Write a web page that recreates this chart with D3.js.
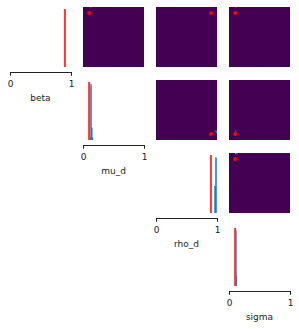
<!DOCTYPE html>
<html>
<head>
<meta charset="utf-8">
<script src="https://cdn.jsdelivr.net/npm/d3@7"></script>
<style>
  body { margin: 0; background: #fff; }
  svg { display: block; }
  text { font-family: "DejaVu Sans", sans-serif; fill: #222; }
</style>
</head>
<body>
<svg width="299" height="329"></svg>
<script>
// parameters and ground truth
const params = ["beta", "mu_d", "rho_d", "sigma"];
const truth = [0.9, 0.1, 0.9, 0.1];
const limits = [0, 1];
const tickValues = [0, 1];

// 1d marginals of the posterior: [x0, x1, relative height]
const histBeta = [[1.0, 1.02, 1.0]];
const histMu = [[0.114, 0.126, 0.04], [0.126, 0.138, 1.0], [0.138, 0.15, 0.22], [0.15, 0.162, 0.04]];
const histRho = [[0.962, 0.976, 0.48], [0.976, 0.99, 1.0]];
const histSigma = [[0.108, 0.118, 1.0], [0.118, 0.128, 0.18]];
const hists = [histBeta, histMu, histRho, histSigma];

// 2d marginals: [row, col, x0, y0, density] on a 0.02 grid
const binSize = 0.02;
const cells = [
    [0, 1, 0.12, 0.98, 0.25],
    [0, 3, 0.10, 0.98, 0.25],
    [1, 2, 0.96, 0.14, 0.35], [1, 2, 0.98, 0.12, 0.6], [1, 2, 0.98, 0.14, 0.45],
    [1, 3, 0.10, 0.12, 0.45], [1, 3, 0.10, 0.14, 0.35],
    [2, 3, 0.10, 0.98, 0.8], [2, 3, 0.12, 0.98, 0.45]
];

var svg = d3.select("svg");
var n = params.length,
    x0 = 10, y0 = 7, step = 73, pw = 61, ph = 60;

var defs = svg.append("defs");

for (let r = 0; r < n; r++) {
    for (let c = r; c < n; c++) {
        const left = x0 + c * step, top = y0 + r * step;
        const g = svg.append("g").attr("transform", `translate(${left},${top})`);
        const x = d3.scaleLinear().domain(limits).range([0, pw]);
        const id = "clip" + r + c;
        defs.append("clipPath").attr("id", id)
            .append("rect").attr("width", pw).attr("height", ph);

        if (r == c) {
            // diagonal: histogram + truth line + x axis
            const y = d3.scaleLinear().domain([0, 1.05]).range([ph, 2]);
            const inner = g.append("g").attr("clip-path", `url(#${id})`);
            // bins outside the plotted range are not drawn
            inner.selectAll("rect.bar")
                .data(hists[r].filter(d => d[0] < limits[1] && d[1] > limits[0]))
                .enter().append("rect")
                .attr("class", "bar")
                .attr("x", d => x(d[0]))
                .attr("width", d => x(d[1]) - x(d[0]))
                .attr("y", d => y(d[2]))
                .attr("height", d => ph - y(d[2]))
                .attr("fill", "#1f77b4")
                .attr("stroke", "#1f77b4")
                .attr("stroke-width", 0.6);
            inner.append("line")
                .attr("x1", x(truth[r])).attr("x2", x(truth[r]))
                .attr("y1", y(1.05)).attr("y2", ph)
                .attr("stroke", "#f33")
                .attr("stroke-width", 2);

            const axis = g.append("g")
                .attr("transform", `translate(0,${ph + 5})`)
                .call(d3.axisBottom(x).tickValues(tickValues).tickFormat(d3.format("d")).tickSize(3.5));
            axis.select(".domain").attr("stroke", "#222").attr("stroke-width", 1);
            axis.selectAll(".tick line").attr("stroke", "#222");
            axis.selectAll(".tick text")
                .attr("font-size", 9)
                .attr("font-family", "DejaVu Sans, sans-serif")
                .attr("fill", "#222")
                .attr("dy", "0.9em");
            g.append("text")
                .attr("x", pw / 2)
                .attr("y", ph + 34)
                .attr("text-anchor", "middle")
                .attr("font-size", 9)
                .text(params[r]);
        } else {
            // upper triangle: 2d histogram + truth point
            const y = d3.scaleLinear().domain(limits).range([ph, 0]);
            g.append("rect")
                .attr("width", pw).attr("height", ph)
                .attr("fill", d3.interpolateViridis(0));
            const inner = g.append("g").attr("clip-path", `url(#${id})`);
            inner.selectAll("rect.cell")
                .data(cells.filter(d => d[0] == r && d[1] == c))
                .enter().append("rect")
                .attr("class", "cell")
                .attr("x", d => x(d[2]))
                .attr("y", d => y(d[3] + binSize))
                .attr("width", d => x(d[2] + binSize) - x(d[2]))
                .attr("height", d => y(d[3]) - y(d[3] + binSize))
                .attr("fill", d => d3.interpolateViridis(d[4]));
            g.append("circle")
                .attr("cx", x(truth[c]))
                .attr("cy", y(truth[r]))
                .attr("r", 1.9)
                .attr("fill", "red");
        }
    }
}
</script>
</body>
</html>
